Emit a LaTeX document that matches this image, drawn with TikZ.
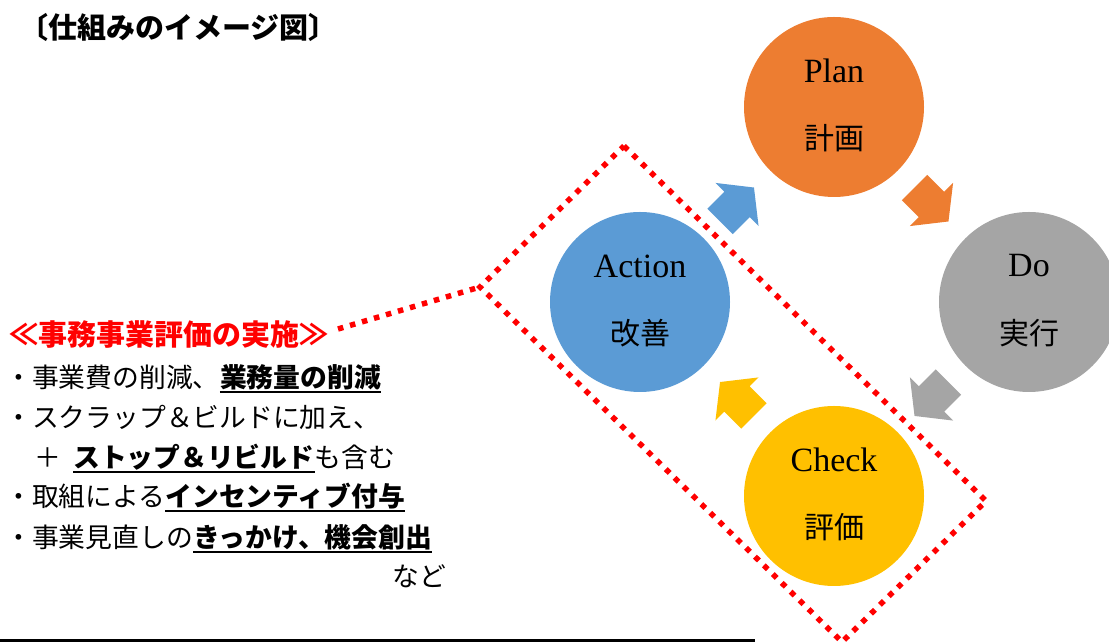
\documentclass[tikz,border=0pt]{standalone}
\usepackage{fontspec}
\setmainfont{Liberation Serif}
\newfontfamily\jp{Noto Sans CJK JP}
\usetikzlibrary{calc}
\definecolor{orangeA}{HTML}{ED7D31}
\definecolor{grayA}{HTML}{A5A5A5}
\definecolor{blueA}{HTML}{5B9BD5}
\definecolor{yellowA}{HTML}{FFC000}
\tikzset{
  phase/.style={circle, inner sep=0pt, minimum size=180pt},
  en/.style={font=\fontsize{34}{40}\selectfont, inner sep=0pt},
  ja/.style={font=\jp\fontsize{30}{34}\selectfont, inner sep=0pt},
  txt/.style={font=\jp\fontsize{26.8}{30}\selectfont, inner sep=0pt, anchor=base west},
  btxt/.style={txt, font=\jp\bfseries\fontsize{26.8}{30}\selectfont},
  uline/.style={line width=2pt},
  reddot/.style={red, line width=5.5pt, dash pattern=on 5.5pt off 7pt},
  pics/barrow/.style={code={\fill[#1] (-24,-18) -- (0,-18) -- (0,-30.5) -- (24,0) -- (0,30.5) -- (0,18) -- (-24,18) -- cycle;}}
}
\begin{document}
\begin{tikzpicture}[x=1pt,y=1pt]
\useasboundingbox (0,0) rectangle (1109,644);
\clip (0,0) rectangle (1109,644);

% title
\node[anchor=base west, inner sep=0pt, font=\jp\bfseries\fontsize{29}{32}\selectfont] (title) at (19,605) {〔仕組みのイメージ図〕};

% circles
\node[phase, fill=orangeA] (plan) at (834,537) {};
\node[phase, fill=grayA] (do) at (1029,342) {};
\node[phase, fill=blueA] (action) at (640,342) {};
\node[phase, fill=yellowA] (check) at (834,148) {};

\node[en] (planE) at ([yshift=36pt]plan.center) {Plan};
\node[ja] (planJ) at ([yshift=-31pt]plan.center) {計画};
\node[en] (doE) at ([yshift=36pt]do.center) {Do};
\node[ja] (doJ) at ([yshift=-31pt]do.center) {実行};
\node[en] (actionE) at ([yshift=36pt]action.center) {Action};
\node[ja] (actionJ) at ([yshift=-31pt]action.center) {改善};
\node[en] (checkE) at ([yshift=36pt]check.center) {Check};
\node[ja] (checkJ) at ([yshift=-31pt]check.center) {評価};

% block arrows
\pic[rotate=45] at ($(action)!0.5!(plan)$) {barrow=blueA};
\pic[rotate=-45] at ($(plan)!0.5!(do)$) {barrow=orangeA};
\pic[rotate=-135] at ($(do)!0.5!(check)$) {barrow=grayA};
\pic[rotate=135] at ($(check)!0.5!(action)$) {barrow=yellowA};

% left text
\node[txt, font=\jp\bfseries\fontsize{29}{32}\selectfont, text=red] (head) at (9,298) {≪事務事業評価の実施≫};

\node[txt] (l1a) at (5,256) {・事業費の削減、};
\node[btxt] (l1b) at (l1a.base east) {業務量の削減};
\draw[uline] ([yshift=-4pt]l1b.base west) -- ([yshift=-4pt]l1b.base east);

\node[txt] (l2) at (5,216) {・スクラップ＆ビルドに加え、};

\node[txt] (l3a) at (34,176) {＋};
\node[btxt] (l3b) at (73,176) {ストップ＆リビルド};
\node[txt] (l3c) at (l3b.base east) {も含む};
\draw[uline] ([yshift=-4pt]l3b.base west) -- ([yshift=-4pt]l3b.base east);

\node[txt] (l4a) at (5,137) {・取組による};
\node[btxt] (l4b) at (l4a.base east) {インセンティブ付与};
\draw[uline] ([yshift=-4pt]l4b.base west) -- ([yshift=-4pt]l4b.base east);

\node[txt] (l5a) at (5,96) {・事業見直しの};
\node[btxt] (l5b) at (l5a.base east) {きっかけ、機会創出};
\draw[uline] ([yshift=-4pt]l5b.base west) -- ([yshift=-4pt]l5b.base east);

\node[txt] (l6) at (392,57) {など};

% red dotted frame and leader
\coordinate (rT) at (624,498);
\coordinate (rR) at (986,143);
\coordinate (rB) at (842,2);
\coordinate (rL) at (480,357);
\coordinate (lead) at (338,315);
\draw[reddot] (rT) -- (rR) -- (rB) -- (rL) -- cycle;
\draw[reddot] (lead) -- (rL);

% bottom rule
\coordinate (b1) at (0,3.5);
\coordinate (b2) at (755,3.5);
\draw[line width=3pt] (b1) -- (b2);
\end{tikzpicture}
\end{document}
